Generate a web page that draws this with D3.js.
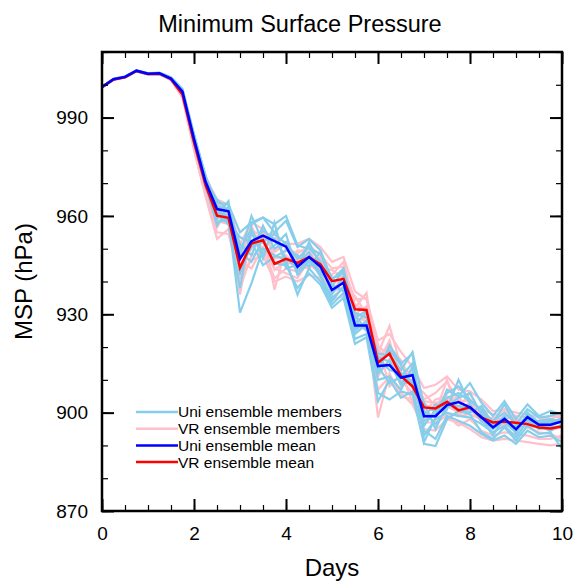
<!DOCTYPE html>
<html>
<head>
<meta charset="utf-8">
<script src="https://cdn.jsdelivr.net/npm/d3@7"></script>
<style>
  body { margin: 0; background: #fff; }
  text { font-family: "Liberation Sans", Arial, sans-serif; fill: #000; }
</style>
</head>
<body>
<div id="chart-area"></div>
<script>
// 6-hourly output, 0 to 10 days
var days = d3.range(0, 41).map(function (i) { return i / 4; });

var uniMean = [999.3,1001.7,1002.4,1004.3,1003.4,1003.5,1001.9,997.9,983.5,970.5,962.1,961.4,946.9,952.3,954.0,952.3,950.6,944.5,947.5,944.5,937.4,939.6,926.6,926.6,914.2,914.5,910.7,911.4,898.9,898.9,902.3,903.2,901.6,898.6,895.5,898.1,894.9,898.6,896.3,896.3,897.3];
var vrMean = [999.3,1001.6,1002.3,1004.2,1003.3,1003.4,1001.7,997.0,982.5,969.5,960.1,959.4,944.2,951.6,952.6,945.4,946.9,945.7,947.4,945.2,940.1,940.8,931.5,931.3,915.2,918.0,911.1,908.0,901.6,901.3,903.3,900.7,901.6,898.5,897.0,897.3,896.9,896.5,895.5,895.2,895.8];

var uniMembers = [
  [999.3,1001.8,1002.5,1004.4,1003.6,1003.7,1002.3,998.8,985.0,972.0,964.0,963.5,955.0,958.0,959.5,957.5,960.0,951.0,950.0,948.5,941.0,942.5,930.5,929.0,918.0,917.5,913.0,918.5,902.0,900.5,906.0,908.0,904.0,900.5,897.5,900.0,896.5,901.0,898.5,899.0,900.0],
  [999.2,1001.6,1002.3,1004.1,1003.2,1003.3,1001.5,997.0,982.0,969.0,958.0,959.0,930.5,939.5,950.0,948.0,946.5,936.0,944.0,940.0,933.0,936.5,922.5,924.0,906.0,904.0,906.5,905.5,890.5,889.8,898.0,900.5,899.5,894.0,892.0,895.5,891.5,896.0,893.5,894.0,889.0],
  [999.4,1001.7,1002.4,1004.3,1003.5,1003.5,1002.0,998.0,984.0,971.5,963.0,962.0,948.0,960.0,952.0,954.5,951.5,947.0,950.5,946.0,936.0,941.5,925.0,928.0,912.0,916.0,909.0,912.0,896.0,901.0,904.5,906.0,903.5,901.0,896.0,899.0,893.5,900.0,897.0,897.5,898.0],
  [999.3,1001.7,1002.4,1004.2,1003.4,1003.4,1001.8,997.5,983.0,970.0,961.0,960.0,951.5,948.0,957.0,950.0,952.0,942.0,946.0,943.0,939.0,937.0,928.0,925.0,916.5,913.0,912.0,909.0,900.5,896.5,901.0,910.0,902.5,897.5,895.0,897.5,895.5,898.0,895.5,896.0,898.5],
  [999.3,1001.7,1002.4,1004.3,1003.4,1003.6,1002.1,998.3,984.5,971.0,960.0,964.5,942.0,955.0,947.0,958.0,944.0,945.0,949.0,942.0,935.0,938.0,924.0,927.0,910.0,911.0,907.0,914.0,893.0,898.0,900.0,899.0,898.5,896.5,894.0,896.0,892.5,897.5,895.0,895.5,896.0],
  [999.2,1001.6,1002.4,1004.2,1003.3,1003.3,1001.6,997.2,982.5,969.5,962.5,958.0,953.5,952.0,945.0,947.5,949.5,948.0,944.5,949.0,938.5,943.5,927.0,930.5,915.0,919.0,914.5,908.0,899.0,902.5,902.0,904.5,906.0,899.5,897.0,902.5,896.0,897.0,897.5,898.0,897.0],
  [999.4,1001.8,1002.5,1004.4,1003.5,1003.6,1002.2,998.5,983.8,970.8,965.0,961.5,944.0,950.5,955.5,953.0,947.0,944.0,952.0,945.0,937.5,940.0,926.0,926.5,914.0,909.0,911.0,915.0,897.5,899.5,903.0,902.0,901.0,898.0,893.0,898.5,895.0,899.5,896.5,897.0,898.0],
  [999.3,1001.7,1002.3,1004.3,1003.4,1003.5,1001.9,997.6,983.2,970.2,957.0,963.0,950.0,956.0,948.5,951.0,954.5,943.0,947.0,941.5,934.0,938.5,929.5,925.5,917.0,915.5,908.5,910.0,903.0,895.0,902.5,901.0,900.0,902.0,896.5,897.0,894.0,899.0,896.0,894.5,896.5],
  [999.3,1001.7,1002.4,1004.3,1003.4,1003.5,1001.9,998.2,984.5,972.5,960.5,957.5,938.0,957.5,959.5,955.0,958.5,950.5,953.0,949.5,940.5,944.0,929.0,931.0,912.5,920.5,915.0,918.0,891.0,898.5,907.0,905.0,909.0,903.0,899.0,903.5,898.0,902.5,899.0,900.5,899.5],
  [999.3,1001.6,1002.3,1004.2,1003.3,1003.4,1001.8,997.4,982.8,969.8,959.0,962.5,949.0,946.0,953.0,945.5,945.0,938.0,942.5,939.0,932.0,935.0,921.0,923.0,903.5,910.0,904.5,906.5,894.5,892.0,899.0,897.5,896.0,893.5,891.5,893.0,890.5,894.5,892.5,893.0,891.0]
];

var vrMembers = [
  [999.2,1001.5,1002.2,1004.1,1003.2,1003.3,1001.4,996.0,980.0,966.0,953.0,956.0,938.0,948.0,950.0,941.0,944.0,943.0,945.0,943.0,937.0,938.0,928.0,929.0,898.5,912.0,905.0,904.0,897.0,897.0,899.0,896.0,898.0,894.5,893.0,894.0,893.5,893.0,892.0,892.0,893.0],
  [999.3,1001.6,1002.3,1004.2,1003.3,1003.4,1001.7,997.0,982.5,969.5,958.5,957.5,943.0,952.0,955.5,937.5,950.5,948.5,951.0,948.0,944.0,944.5,934.5,935.0,918.0,926.5,914.0,911.5,904.0,906.0,909.5,903.5,903.5,901.0,899.5,899.0,899.0,898.5,897.0,896.5,897.5],
  [999.3,1001.7,1002.4,1004.3,1003.4,1003.5,1001.9,997.5,983.5,971.0,962.0,961.5,936.0,955.0,952.0,946.0,946.0,949.5,949.0,944.0,942.0,946.0,932.0,936.5,915.0,922.0,910.0,906.0,900.0,904.0,905.0,901.5,906.0,899.0,898.0,901.0,897.5,896.0,897.5,899.0,898.5],
  [999.4,1001.7,1002.4,1004.2,1003.4,1003.4,1001.8,997.3,982.8,969.8,963.5,960.0,946.0,944.0,950.5,944.0,942.5,941.0,946.5,946.0,939.0,937.5,929.0,928.0,911.0,916.5,912.5,903.0,898.5,899.5,902.0,900.0,900.5,900.5,896.0,896.0,896.0,895.5,894.0,893.5,892.0],
  [999.3,1001.6,1002.3,1004.2,1003.3,1003.3,1001.6,996.8,982.0,969.0,960.5,958.5,947.5,957.0,949.0,950.0,952.0,946.0,950.5,942.5,940.5,939.5,935.5,930.0,920.0,918.0,908.0,910.0,903.0,900.0,910.0,899.0,902.5,897.0,897.5,898.5,898.0,897.0,896.0,894.5,896.0],
  [999.2,1001.5,1002.2,1004.1,1003.2,1003.2,1001.5,996.5,981.5,968.5,956.5,962.5,945.5,950.0,956.5,947.0,948.0,944.5,944.0,947.5,936.5,942.0,930.0,932.5,913.0,920.0,916.0,909.0,906.0,902.0,903.0,905.0,899.5,898.0,898.5,896.5,897.0,898.0,897.0,896.0,897.5],
  [999.4,1001.8,1002.5,1004.3,1003.5,1003.5,1002.0,997.6,983.8,971.2,964.0,960.5,950.0,951.0,953.5,943.5,946.5,947.0,948.5,944.0,943.5,941.0,933.0,930.5,917.0,921.0,911.5,907.5,903.5,903.0,904.0,901.0,903.0,900.0,897.0,897.5,896.5,897.5,895.5,895.0,895.5],
  [999.3,1001.6,1002.3,1004.2,1003.3,1003.4,1001.7,996.9,982.2,969.3,962.0,958.5,947.5,955.5,954.0,955.0,945.5,945.5,944.5,947.0,938.5,937.5,930.0,929.0,921.0,908.0,911.5,913.0,900.5,898.5,899.5,899.0,899.5,898.0,896.5,896.5,897.5,896.0,895.5,895.0,896.0],
  [999.3,1001.6,1002.3,1004.2,1003.3,1003.3,1001.6,996.6,981.0,966.5,955.0,954.5,941.0,946.5,948.0,940.0,941.5,940.0,942.0,941.0,934.5,935.5,927.0,926.5,907.0,911.0,906.0,902.5,895.0,894.5,898.0,897.0,895.0,892.5,891.5,892.0,891.5,891.0,890.5,890.0,890.5],
  [999.3,1001.7,1002.4,1004.3,1003.4,1003.5,1001.9,997.8,984.0,972.0,965.0,963.5,951.5,958.0,956.0,949.0,951.5,951.5,953.0,950.5,946.0,947.5,937.0,934.5,922.0,924.0,918.5,914.0,907.5,908.5,911.0,907.0,906.5,904.0,900.5,901.0,900.0,899.5,898.5,898.0,899.5]
];

var xTicks = [0, 2, 4, 6, 8, 10];
var yTicks = [870, 900, 930, 960, 990];
var legendLabels = ['Uni ensemble members', 'VR ensemble members', 'Uni ensemble mean', 'VR ensemble mean'];
var legendColors = ['#87ceeb', '#ffc0cb', '#0000ff', '#ff0000'];

var margin = { top: 52, right: 15, bottom: 70, left: 102 };
var width = 577 - margin.left - margin.right;
var height = 581 - margin.top - margin.bottom;

var svg = d3.select('#chart-area')
    .append('svg')
        .attr('width', 577)
        .attr('height', 581);

var g = svg.append('g')
    .attr('transform', 'translate(' + margin.left + ',' + margin.top + ')');

var x = d3.scaleLinear().domain([0, 10]).range([0, width]);
var y = d3.scaleLinear().domain([870, 1010]).range([height, 0]);

var line = d3.line()
    .x(function (d, i) { return x(days[i]); })
    .y(function (d) { return y(d); });

// clip so lines don't cross the frame
g.append('clipPath').attr('id', 'clip')
    .append('rect').attr('width', width).attr('height', height);

var plot = g.append('g').attr('clip-path', 'url(#clip)');

// members first, means on top
plot.selectAll('.vr-member').data(vrMembers)
    .enter().append('path')
    .attr('class', 'vr-member')
    .attr('d', line)
    .attr('fill', 'none')
    .attr('stroke', legendColors[1])
    .attr('stroke-width', 2.2);

plot.selectAll('.uni-member').data(uniMembers)
    .enter().append('path')
    .attr('class', 'uni-member')
    .attr('d', line)
    .attr('fill', 'none')
    .attr('stroke', legendColors[0])
    .attr('stroke-width', 2.2);

plot.append('path')
    .attr('d', line(vrMean))
    .attr('fill', 'none')
    .attr('stroke', legendColors[3])
    .attr('stroke-width', 2.5);

plot.append('path')
    .attr('d', line(uniMean))
    .attr('fill', 'none')
    .attr('stroke', legendColors[2])
    .attr('stroke-width', 2.5);

// axes: ticks point inward on all four sides
function styleAxis(sel, w) {
    sel.select('.domain').remove();
    sel.selectAll('.tick line').attr('stroke', '#000').attr('stroke-width', w);
    sel.selectAll('.tick text')
        .attr('font-size', '19px')
        .attr('font-family', '"Liberation Sans", Arial, sans-serif');
}

var xMinor = d3.range(0, 10.01, 0.5);
var yMinor = d3.range(870, 1010.1, 10);

g.append('g').attr('transform', 'translate(0,' + height + ')')
    .call(d3.axisBottom(x).tickValues(xMinor).tickSize(-6).tickFormat(''))
    .call(styleAxis, 1.2);
g.append('g').attr('transform', 'translate(0,' + height + ')')
    .call(d3.axisBottom(x).tickValues(xTicks).tickSize(-12).tickPadding(16).tickFormat(d3.format('d')))
    .call(styleAxis, 2);

g.append('g')
    .call(d3.axisTop(x).tickValues(xMinor).tickSize(-6).tickFormat(''))
    .call(styleAxis, 1.2);
g.append('g')
    .call(d3.axisTop(x).tickValues(xTicks).tickSize(-12).tickFormat(''))
    .call(styleAxis, 2);

g.append('g')
    .call(d3.axisLeft(y).tickValues(yMinor).tickSize(-6).tickFormat(''))
    .call(styleAxis, 1.2);
g.append('g')
    .call(d3.axisLeft(y).tickValues(yTicks).tickSize(-12).tickPadding(14).tickFormat(d3.format('d')))
    .call(styleAxis, 2);

g.append('g').attr('transform', 'translate(' + width + ',0)')
    .call(d3.axisRight(y).tickValues(yMinor).tickSize(-6).tickFormat(''))
    .call(styleAxis, 1.2);
g.append('g').attr('transform', 'translate(' + width + ',0)')
    .call(d3.axisRight(y).tickValues(yTicks).tickSize(-12).tickFormat(''))
    .call(styleAxis, 2);

// frame
g.append('rect')
    .attr('width', width)
    .attr('height', height)
    .attr('fill', 'none')
    .attr('stroke', '#000')
    .attr('stroke-width', 2.5);

// legend
var legend = g.append('g').attr('transform', 'translate(34,360)');
legendLabels.forEach(function (label, i) {
    legend.append('line')
        .attr('x1', 0).attr('x2', 42)
        .attr('y1', i * 16.7).attr('y2', i * 16.7)
        .attr('stroke', legendColors[i])
        .attr('stroke-width', 2.5);
    legend.append('text')
        .attr('x', 42)
        .attr('y', i * 16.7)
        .attr('dy', '0.35em')
        .attr('font-size', '15.5px')
        .text(label);
});

// titles
svg.append('text')
    .attr('x', 300)
    .attr('y', 32)
    .attr('text-anchor', 'middle')
    .attr('font-size', '23.5px')
    .text('Minimum Surface Pressure');

svg.append('text')
    .attr('x', margin.left + width / 2)
    .attr('y', 576)
    .attr('text-anchor', 'middle')
    .attr('font-size', '24px')
    .text('Days');

svg.append('text')
    .attr('transform', 'translate(32,' + (margin.top + height / 2) + ') rotate(-90)')
    .attr('text-anchor', 'middle')
    .attr('font-size', '24px')
    .text('MSP (hPa)');
</script>
</body>
</html>
